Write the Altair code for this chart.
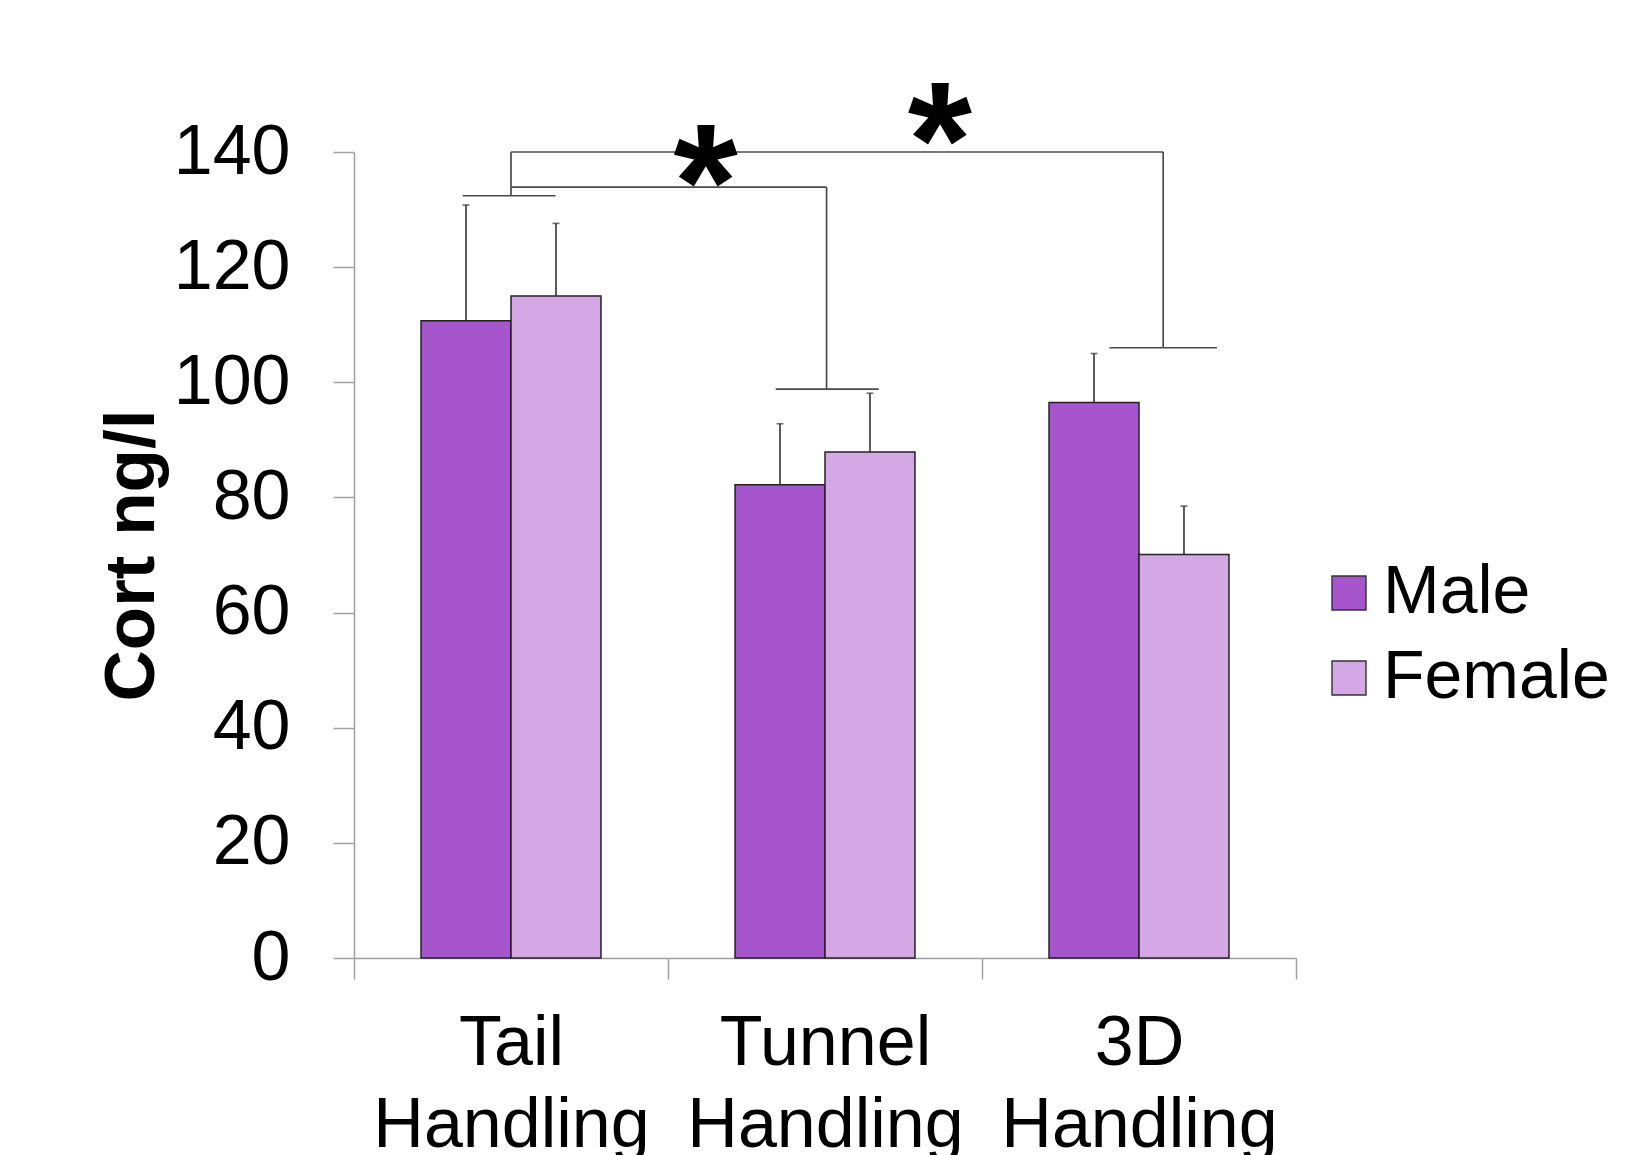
import altair as alt
import pandas as pd

# ---- data ----
categories = ["Tail Handling", "Tunnel Handling", "3D Handling"]
sexes = ["Male", "Female"]
male_means = [110.7, 82.2, 96.5]
female_means = [115.0, 87.9, 70.1]
male_sem = [20.1, 10.6, 8.5]
female_sem = [12.6, 10.2, 8.4]
colors = ["#A755CC", "#D3A8E5"]
y_ticks = [0, 20, 40, 60, 80, 100, 120, 140]

# significance brackets: x in category units (category i spans [i, i+1])
bracket_x = [0.346, 0.5, 0.5, 2.577, 2.406, 0.5, 1.505, 1.343]
bracket_x2 = [0.642, 0.5, 2.577, 2.577, 2.748, 1.505, 1.505, 1.671]
bracket_y = [132.4, 132.4, 140.0, 140.0, 106.0, 133.9, 133.9, 98.8]
bracket_y2 = [132.4, 140.0, 140.0, 106.0, 106.0, 133.9, 98.8, 98.8]
star_x = [1.12, 1.866]
star_y = [139.6, 147.0]
star_text = ["*", "*"]

# ---- tables ----
rows = []
for i, c in enumerate(categories):
    rows.append({"category": c, "sex": "Male", "value": male_means[i], "upper": male_means[i] + male_sem[i]})
    rows.append({"category": c, "sex": "Female", "value": female_means[i], "upper": female_means[i] + female_sem[i]})
df = pd.DataFrame(rows)
bdf = pd.DataFrame({"x": bracket_x, "x2": bracket_x2, "value": bracket_y, "value2": bracket_y2})
sdf = pd.DataFrame({"x": star_x, "value": star_y, "t": star_text})

W, H = 942, 806
FONT = "Liberation Sans"
AX = "#a0a0a0"

yscale = alt.Scale(domain=[0, 140], nice=False, zero=True)
yaxis = alt.Axis(values=y_ticks, title="Cort ng/l", grid=False, tickSize=21, labelPadding=43,
                 titlePadding=5, titleFontSize=71, titleFontWeight="bold", titleFont=FONT)

xband = alt.X("category:N", sort=categories,
              scale=alt.Scale(paddingInner=0, paddingOuter=0),
              axis=alt.Axis(title=None, labelAngle=0,
                            labelExpr="datum.value ? split(datum.value, ' ') : ''",
                            tickBand="extent", tickSize=21, labelPadding=30, labelLineHeight=82,
                            labelLimit=600, labelOverlap=False, labelBaseline="top"))
xoff = alt.XOffset("sex:N", sort=sexes,
                   scale=alt.Scale(domain=sexes, paddingInner=0, paddingOuter=0.745))

bars = alt.Chart(df).mark_bar(stroke="#222222", strokeWidth=1.5).encode(
    x=xband,
    xOffset=xoff,
    y=alt.Y("value:Q", scale=yscale, axis=yaxis),
    color=alt.Color("sex:N", sort=sexes, scale=alt.Scale(domain=sexes, range=colors),
                    legend=alt.Legend(title=None, orient="none", legendX=961, legendY=407,
                                      symbolType="square", symbolSize=1156, symbolStrokeColor="#333",
                                      symbolStrokeWidth=1.4, symbolOpacity=1, labelFontSize=68,
                                      labelFont=FONT, labelColor="black", labelOffset=0,
                                      rowPadding=17, padding=0, labelLimit=600)),
)

err = alt.Chart(df).mark_rule(color="#333", strokeWidth=1.6).encode(
    x=xband, xOffset=xoff,
    y=alt.Y("value:Q", scale=yscale, axis=yaxis), y2="upper:Q",
)
caps = alt.Chart(df).mark_tick(color="#333", thickness=1.6, size=7).encode(
    x=xband, xOffset=xoff,
    y=alt.Y("upper:Q", scale=yscale, axis=yaxis),
)

qx = alt.Scale(domain=[0, 3], nice=False, zero=False)
brackets = alt.Chart(bdf).mark_rule(color="#4a4a4a", strokeWidth=1.7).encode(
    x=alt.X("x:Q", scale=qx, axis=None), x2="x2:Q",
    y=alt.Y("value:Q", scale=yscale, axis=yaxis), y2="value2:Q",
)
stars = alt.Chart(sdf).mark_text(font=FONT, fontWeight="bold", fontSize=165, baseline="middle",
                                 align="center", dy=35, color="black").encode(
    x=alt.X("x:Q", scale=qx, axis=None),
    y=alt.Y("value:Q", scale=yscale, axis=yaxis),
    text="t:N",
)

main = alt.layer(bars, err, caps)
annot = alt.layer(brackets, stars)

chart = alt.layer(main, annot).resolve_scale(x="independent").properties(
    width=W, height=H,
    autosize=alt.AutoSizeParams(type="none"),
    padding={"left": 354, "top": 152, "right": 1631 - 354 - W, "bottom": 1155 - 152 - H},
).configure_view(stroke=None).configure_axis(
    domainColor=AX, tickColor=AX, domainWidth=1.5, tickWidth=1.5,
    labelFont=FONT, labelFontSize=70, labelColor="black", titleColor="black",
)

chart.save("out.html", embed_options={"renderer": "svg", "actions": False})
